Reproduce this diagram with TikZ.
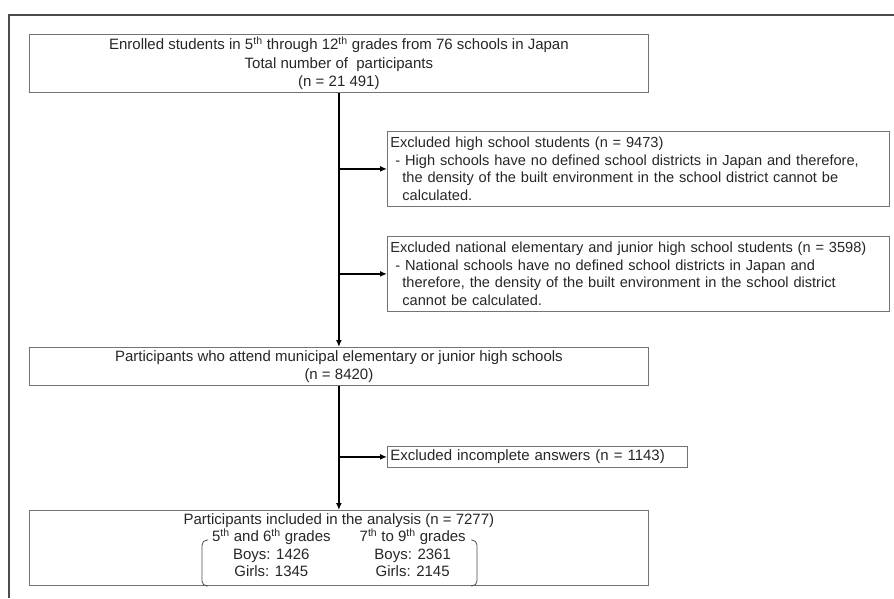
\documentclass[tikz,border=0pt]{standalone}
\usepackage{fontspec}
\setmainfont{Liberation Sans}
\usetikzlibrary{arrows.meta}

\begin{document}
\begin{tikzpicture}[x=1pt, y=-1pt,
  box/.style={draw=black!55, line width=0.8pt, anchor=north west, inner xsep=3pt, inner ysep=0pt,
    text=black!85, font=\fontsize{15}{18.5}\selectfont},
  sidebox/.style={box, font=\fontsize{14.6}{17.5}\selectfont},
  flow/.style={line width=2pt, -{Latex[length=7pt,width=6pt]}},
  brace/.style={draw=black!70, line width=0.8pt, rounded corners=5pt}]

\def \mainw{619}
\def \sidew{502}

\useasboundingbox (0,0) rectangle (894,598);

% outer frame
\draw [line width=1.5pt, black!70] (9,598) -- (9,15) -- (894,15);

\node [box, minimum width=\mainw, minimum height=58, align=center] (enrol) at (29,34)
  {Enrolled students in 5\textsuperscript{th} through 12\textsuperscript{th} grades from 76 schools in Japan\\
   Total number of\ \ participants\\
   (n = 21 491)};

\node [sidebox, minimum width=\sidew, minimum height=75, text width=\sidew-6, align=left] (excHigh) at (387,131)
  {Excluded high school students (n = 9473)\\
   \hspace*{5pt}- High schools have no defined school districts in Japan and therefore,\\
   \hspace*{12pt}the density of the built environment in the school district cannot be\\
   \hspace*{12pt}calculated.};

\node [sidebox, minimum width=\sidew, minimum height=75, text width=\sidew-6, align=left] (excNational) at (387,236)
  {Excluded national elementary and junior high school students (n = 3598)\\
   \hspace*{5pt}- National schools have no defined school districts in Japan and\\
   \hspace*{12pt}therefore, the density of the built environment in the school district\\
   \hspace*{12pt}cannot be calculated.};

\node [box, minimum width=\mainw, minimum height=38, align=center] (municipal) at (29,347)
  {Participants who attend municipal elementary or junior high schools\\
   (n = 8420)};

\node [box, minimum width=300, minimum height=21, text width=294, align=left] (excIncomplete) at (387,446)
  {Excluded incomplete answers (n = 1143)};

\node [box, minimum width=\mainw, minimum height=75, align=center, font=\fontsize{15}{17.5}\selectfont] (analysis) at (29,510)
  {Participants included in the analysis (n = 7277)\\
   \begin{tabular}{@{}c@{\hspace{29pt}}c@{}}
   5\textsuperscript{th} and 6\textsuperscript{th} grades & 7\textsuperscript{th} to 9\textsuperscript{th} grades\\
   Boys: 1426 & Boys: 2361\\
   Girls: 1345 & Girls: 2145
   \end{tabular}};

% round brackets of the grade table
\draw [brace] (208,540) -- (202,540) -- (202,586) -- (208,586);
\draw [brace] (471,540) -- (477,540) -- (477,586) -- (471,586);

\draw [flow] (enrol) -- (municipal);
\draw [flow] (municipal) -- (analysis);
\draw [flow] (enrol.south |- excHigh) -- (excHigh);
\draw [flow] (enrol.south |- excNational) -- (excNational);
\draw [flow] (municipal.south |- excIncomplete) -- (excIncomplete);

\end{tikzpicture}
\end{document}
